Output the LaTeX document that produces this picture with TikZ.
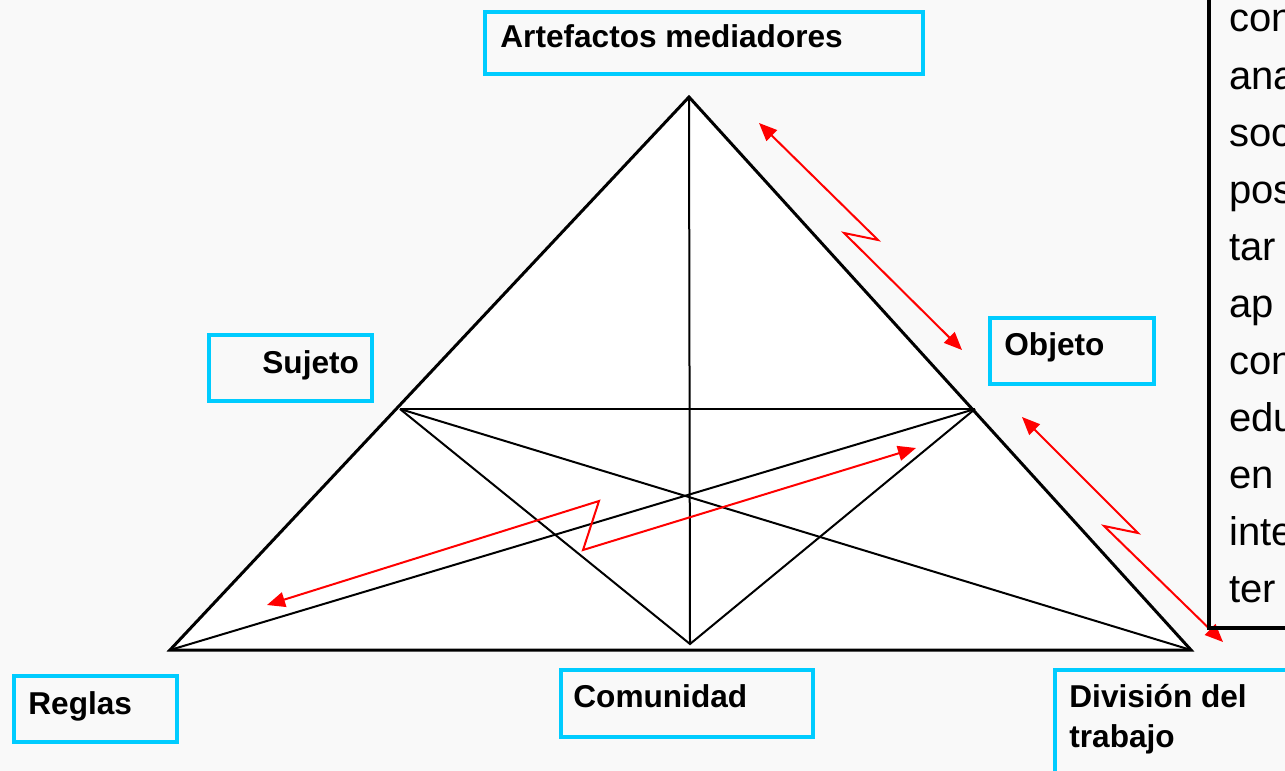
\documentclass[tikz,border=0pt]{standalone}
\usepackage{fontspec}
\setmainfont{Liberation Sans}
\usetikzlibrary{arrows.meta}
\definecolor{cyanbox}{RGB}{0,204,255}
\definecolor{bgpage}{RGB}{249,249,249}
\begin{document}
\begin{tikzpicture}[x=0.5pt,y=-0.5pt,
  outerline/.style={line width=1.5pt, line join=miter},
  innerline/.style={line width=1pt},
  redarrow/.style={draw=red, line width=1pt, {Triangle[length=9pt,width=7.5pt]}-{Triangle[length=9pt,width=7.5pt]}},
  labelbox/.style={draw=cyanbox, line width=1.75pt},
  textframe/.style={draw=black, line width=2pt},
  labeltext/.style={anchor=base west, inner sep=0pt, font=\bfseries\fontsize{15.8}{20}\selectfont},
  sidetext/.style={anchor=base west, inner sep=0pt, font=\fontsize{20}{24}\selectfont}]

\fill[bgpage] (0,0) rectangle (1285,771);
\useasboundingbox (0,0) rectangle (1285,771);

% triangle points
\coordinate (A) at (689,97);
\coordinate (L) at (170,650);
\coordinate (R) at (1191,650);
\coordinate (ML) at (400,409);
\coordinate (MR) at (975,409);
\coordinate (MB) at (690,644);

\fill[white] (A) -- (L) -- (R) -- cycle;
\draw[innerline] (ML) -- (MR);
\draw[innerline] (A) -- (MB);
\draw[innerline] (ML) -- (MB) -- (MR);
\draw[innerline] (ML) -- (R);
\draw[innerline] (MR) -- (L);
\draw[outerline] (A) -- (L) -- (R) -- cycle;

% red arrows
\draw[redarrow] (759,123) -- (878,240) -- (844,233) -- (962,350);
\draw[redarrow] (1022,417) -- (1138,533) -- (1104,526) -- (1223,642);
\draw[redarrow] (267,605) -- (599,501) -- (583,550) -- (916,448);

% label boxes
\draw[labelbox] (485,12) rectangle (923,74);
\node[labeltext] (artefactos) at (500,47) {Artefactos mediadores};

\draw[labelbox] (209,335) rectangle (372,401);
\node[labeltext] (sujeto) at (262,373) {Sujeto};

\draw[labelbox] (990,318) rectangle (1154,384);
\node[labeltext] (objeto) at (1004,355) {Objeto};

\draw[labelbox] (14,676) rectangle (177,742);
\node[labeltext] (reglas) at (28,714) {Reglas};

\draw[labelbox] (561,670) rectangle (813,737);
\node[labeltext] (comunidad) at (573,707) {Comunidad};

\draw[labelbox] (1055,670) rectangle (1310,800);
\node[labeltext] (division1) at (1069,707) {División del};
\node[labeltext] (division2) at (1069,747) {trabajo};

% side text frame
\draw[textframe] (1209,-20) rectangle (1310,628);
\foreach \t [count=\i from 0] in {con,ana,soc,pos,tar,ap,con,edu,en,inte,ter}
  \node[sidetext] (side\i) at (1229,{32+57*\i}) {\t};
\end{tikzpicture}
\end{document}
